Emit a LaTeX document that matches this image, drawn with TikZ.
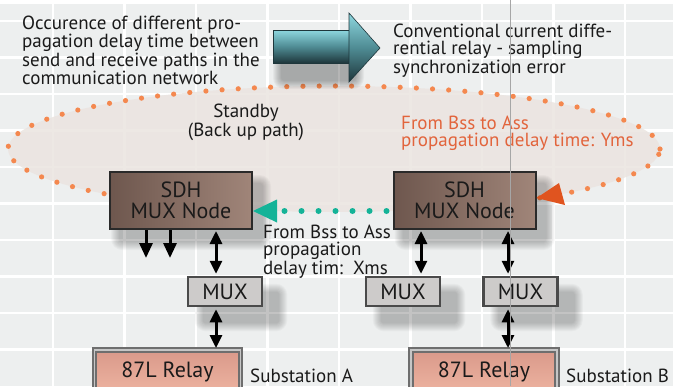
\documentclass[tikz,border=0pt]{standalone}
\usepackage{fontspec}
\setmainfont{PT Sans}
\usetikzlibrary{arrows.meta,calc}
\pgfdeclarelayer{back}
\pgfdeclarelayer{shad}
\pgfsetlayers{back,shad,main}
\definecolor{bg}{HTML}{EDEFEF}
\definecolor{ellfill}{HTML}{EBE4E0}
\definecolor{dotorange}{HTML}{F4884F}
\definecolor{tealdot}{HTML}{14B398}
\definecolor{redhead}{HTML}{E0541F}
\definecolor{orangetext}{HTML}{E2643C}
\definecolor{sdhdark}{HTML}{6E574E}
\definecolor{sdhlight}{HTML}{A08579}
\definecolor{boxline}{HTML}{2A2A2A}
\definecolor{muxfill}{HTML}{CDCBCA}
\definecolor{muxline}{HTML}{4A4A4A}
\definecolor{relaytop}{HTML}{D9998A}
\definecolor{relaybot}{HTML}{EEB4A1}
\definecolor{relayline}{HTML}{6E6E6E}
\definecolor{arrlight}{HTML}{8ED7DF}
\definecolor{arrmid}{HTML}{4F8C94}
\definecolor{arrdark}{HTML}{1E363B}
\definecolor{txt}{HTML}{1A1A1A}
\tikzset{
  lbl/.style={inner sep=0pt, anchor=north west, align=left, text=txt,
    font=\fontsize{19}{17}\selectfont},
  sdhbox/.style={draw=boxline, line width=2pt, left color=sdhdark, right color=sdhlight,
    minimum width=142pt, minimum height=57pt, inner sep=0pt, align=center,
    font=\fontsize{22}{21}\selectfont, text=txt},
  muxbox/.style={draw=muxline, line width=2.5pt, fill=muxfill,
    minimum width=74pt, minimum height=29pt, inner sep=0pt,
    font=\fontsize{22}{22}\selectfont, text=txt},
  relaybox/.style={draw=relayline, line width=2pt, double=gray!45, double distance=1.5pt,
    top color=relaytop, bottom color=relaybot,
    minimum width=146pt, minimum height=44pt, inner sep=0pt,
    font=\fontsize{22}{22}\selectfont, text=txt},
  dbl/.style={line width=3pt, {Triangle[length=13pt,width=12pt]}-{Triangle[length=13pt,width=12pt]}},
  dwn/.style={line width=3pt, -{Triangle[length=15pt,width=13pt]}},
  gridline/.style={white, line width=2.5pt},
  tdot/.style={fill=tealdot},
  shadowlayer/.style={black, opacity=0.028},
}
% soft shadow: #1 node, #2 dx, #3 dy
\newcommand\softshadow[3]{%
  \foreach \k in {0,...,8}{%
    \fill[shadowlayer, rounded corners={(\k+3)*1pt}]
      ($(#1.north west)+(#2-\k,#3-\k)$) rectangle ($(#1.south east)+(#2+\k,#3+\k)$);}}
\begin{document}
\begin{tikzpicture}[x=1pt,y=-1pt]
\useasboundingbox (0,0) rectangle (684,386);
\begin{pgfonlayer}{back}
\fill[white] (0,0) rectangle (684,386);
\fill[bg] (0,4) rectangle (673,386);
\begin{scope}
\clip (0,4) rectangle (673,386);
\foreach \i in {0,...,8} \draw[gridline] ({53+71.5*\i},4) -- ({53+71.5*\i},386);
\foreach \j in {0,...,9} \draw[gridline] (0,{21+36.5*\j}) -- (673,{21+36.5*\j});
\end{scope}
% standby ellipse
\fill[ellfill, opacity=0.85] (334,149) ellipse [x radius=326pt, y radius=63pt];
\begin{scope}
\clip (0,0) rectangle (250,386) (395,0) rectangle (684,386) (250,0) rectangle (395,196);
\draw[dotorange, line width=5.2pt, line cap=round, dash pattern=on 0pt off 16.2pt]
  (334,149) ellipse [x radius=326pt, y radius=63pt];
\end{scope}
\end{pgfonlayer}

% big 3D arrow
\coordinate (shaftA) at (273,30);
\coordinate (shaftB) at (350,63);
\begin{pgfonlayer}{shad}
\foreach \k in {0,...,8}{%
  \fill[shadowlayer, opacity=0.035, rounded corners={(\k+3)*1pt}]
    ($(shaftA)+(8-\k,22-\k)$) rectangle ($(shaftB)+(6+\k,18+\k)$);}
\end{pgfonlayer}
\shade[top color=arrlight, bottom color=arrdark, middle color=arrmid, draw=arrdark, line width=0.6pt]
  (shaftA) rectangle (shaftB);
\shade[top color=arrlight, bottom color=arrdark, middle color=arrmid, draw=arrdark, line width=0.6pt]
  (349,13) -- (380,48) -- (349,82) -- cycle;

% texts at top
\node[lbl] (occ) at (22,16) {Occurence of different pro-\\pagation delay time between\\send and receive paths in the\\communication network};
\node[lbl] (conv) at (393,24) {Conventional current diffe-\\rential relay - sampling\\synchronization error};

\node[lbl, anchor=north, align=center] (stby) at (246,104) {Standby\\(Back up path)};
\node[lbl, text=orangetext] (bsy) at (401,116) {From Bss to Ass\\propagation delay time: Yms};

% SDH nodes
\node[sdhbox] (sdhA) at (181,200.5) {SDH\\MUX Node};
\node[sdhbox] (sdhB) at (464.5,200.5) {SDH\\MUX Node};

% red arrowhead of the Y path
\coordinate (ytip) at ($(sdhB.east)+(0,-2.5)$);
\fill[redhead] (ytip) -- (559,183) -- (565,205) -- cycle;

% teal dotted X path
\coordinate (xstart) at ($(sdhB.west)+(-6,10.5)$);
\coordinate (xend) at ($(sdhA.east)+(0,10.5)$);
\foreach \t in {0,...,6} \fill[tdot] ($(xstart)+(-17*\t,0)$) circle (3pt);
\fill[tealdot] (xend) -- ++(24,-11.5) -- ++(0,23) -- cycle;

\node[lbl] (bsx) at (263,225) {From Bss to Ass\\propagation\\delay tim:\ \ Xms};

% MUX boxes
\node[muxbox] (muxA) at (225,291.5) {MUX};
\node[muxbox] (muxM) at (403,291.5) {MUX};
\node[muxbox] (muxB) at (520.5,291.5) {MUX};

% relays
\node[relaybox] (relA) at (167.5,372) {87L Relay};
\node[relaybox] (relB) at (484,372) {87L Relay};
\node[lbl, anchor=base west] (subA) at (250,382) {Substation A};
\node[lbl, anchor=base west] (subB) at (566,382) {Substation B};

% shadows
\begin{pgfonlayer}{shad}
\softshadow{sdhA}{10}{12}
\softshadow{sdhB}{10}{12}
\softshadow{muxA}{16}{16}
\softshadow{muxM}{16}{16}
\softshadow{muxB}{16}{16}
\end{pgfonlayer}

% arrows
\coordinate (d1) at (146,258);
\coordinate (d2) at (170,258);
\draw[dwn] (sdhA.south -| d1) -- (d1);
\draw[dwn] (sdhA.south -| d2) -- (d2);
\draw[dbl] ($(sdhA.south)+(35,1)$) -- ($(muxA.north)+(-9,-2)$);
\draw[dbl] ($(muxA.south)+(-9,2)$) -- ($(relA.north)+(48.5,-1)$);
\draw[dbl] ($(sdhB.south)+(-43.5,1)$) -- ($(muxM.north)+(18,-2)$);
\draw[dbl] ($(sdhB.south)+(43.5,1)$) -- ($(muxB.north)+(-12.5,-2)$);
\draw[dbl] ($(muxB.south)+(-12.5,2)$) -- ($(relB.north)+(24,-1)$);

% thin vertical line
\draw[gray!70, line width=0.7pt] (510,0) -- (510,386);
\end{tikzpicture}
\end{document}
